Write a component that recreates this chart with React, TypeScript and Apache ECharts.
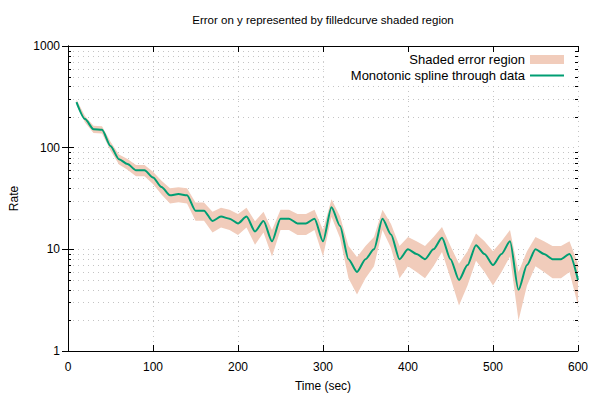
import { useEffect, useRef } from 'react';
import * as echarts from 'echarts';

// Time (sec)
const times = [
  10, 20, 30, 40, 50, 60, 70, 80, 90, 100,
  110, 120, 130, 140, 150, 160, 170, 180, 190, 200,
  210, 220, 230, 240, 250, 260, 270, 280, 290, 300,
  310, 320, 330, 340, 350, 360, 370, 380, 390, 400,
  410, 420, 430, 440, 450, 460, 470, 480, 490, 500,
  510, 520, 530, 540, 550, 560, 570, 580, 590, 600,
];
// Rate
const rates = [
  280, 191, 152, 150, 104, 77, 69, 60, 60, 51,
  41, 34, 35, 34, 24, 24, 19, 21, 20, 18,
  21, 15, 19, 12, 20, 20, 18, 18, 20, 12,
  26, 17, 8, 6, 8, 10, 20, 14, 8, 10,
  9, 8, 10, 13, 8, 5, 7, 11, 9, 7,
  9, 12, 4, 7, 10, 9, 8, 8, 9, 5,
];
// Error on y
const errors = [
  16.7, 13.8, 12.3, 12.2, 10.2, 8.8, 8.3, 7.7, 7.7, 7.1,
  6.4, 5.8, 5.9, 5.8, 4.9, 4.9, 4.4, 4.6, 4.5, 4.2,
  4.6, 3.9, 4.4, 3.5, 4.5, 4.5, 4.2, 4.2, 4.5, 3.5,
  5.1, 4.1, 2.8, 2.4, 2.8, 3.2, 4.5, 3.7, 2.8, 3.2,
  3.0, 2.8, 3.2, 3.6, 2.8, 2.2, 2.6, 3.3, 3.0, 2.6,
  3.0, 3.5, 2.0, 2.6, 3.2, 3.0, 2.8, 2.8, 3.0, 2.2,
];
// Minor log ticks on the y axis
const minorYTicks = [
  2, 3, 4, 5, 6, 7, 8, 9,
  20, 30, 40, 50, 60, 70, 80, 90,
  200, 300, 400, 500, 600, 700, 800, 900,
];

const TITLE = 'Error on y represented by filledcurve shaded region';
const X_NAME = 'Time (sec)';
const Y_NAME = 'Rate';
const BAND_NAME = 'Shaded error region';
const LINE_NAME = 'Monotonic spline through data';

const FONT = '"Liberation Sans", Arial, sans-serif';
const BAND = '#f1ccbb';
const LINE = '#009e73';
const GRID = '#c4c4c4';

export default function App() {
  const ref = useRef<HTMLDivElement>(null);
  useEffect(() => {
    if (!ref.current) return;
    const chart = echarts.init(ref.current, null, { renderer: 'svg' });
    const bandData = times.map((t, i) => [t, rates[i] - errors[i], rates[i] + errors[i]]);
    const line = times.map((t, i) => [t, rates[i]]);
    const minorData = minorYTicks.map((v) => [0, v]);

    const axisLine = { show: true, lineStyle: { color: '#000', width: 1 } };
    const labelStyle = { color: '#000', fontSize: 12, fontFamily: FONT };

    chart.setOption({
      animation: false,
      backgroundColor: '#fff',
      graphic: [
        {
          type: 'text',
          x: 323,
          y: 20,
          style: {
            text: TITLE,
            font: `11.5px ${FONT}`,
            fill: '#000',
            textAlign: 'center',
            textVerticalAlign: 'middle',
          },
        },
      ],
      grid: { left: 68, right: 22, top: 46, bottom: 49 },
      legend: {
        orient: 'vertical',
        right: 26,
        top: 46,
        align: 'right',
        itemWidth: 34,
        itemHeight: 9,
        itemGap: 3,
        padding: [7, 10, 3, 27],
        backgroundColor: '#fff',
        selectedMode: false,
        textStyle: { color: '#000', fontSize: 13, fontFamily: FONT },
        data: [
          { name: BAND_NAME, icon: 'rect', itemStyle: { color: BAND, borderWidth: 0 } },
          {
            name: LINE_NAME,
            icon: 'path://M0 0H34V2H0Z',
            itemStyle: { color: LINE, borderWidth: 0 },
          },
        ],
      },
      xAxis: [
        {
          type: 'value',
          min: 0,
          max: 600,
          interval: 100,
          position: 'bottom',
          name: X_NAME,
          nameLocation: 'middle',
          nameGap: 29,
          nameTextStyle: labelStyle,
          axisLine,
          axisTick: { show: true, inside: true, length: 6, lineStyle: { color: '#000' } },
          axisLabel: { ...labelStyle, margin: 10 },
          splitLine: { show: true, lineStyle: { color: GRID, width: 1, type: [1, 4] } },
        },
        {
          type: 'value',
          min: 0,
          max: 600,
          interval: 100,
          position: 'top',
          z: 10,
          axisLine,
          axisTick: { show: true, inside: true, length: 6, lineStyle: { color: '#000' } },
          axisLabel: { show: false },
          splitLine: { show: false },
        },
      ],
      yAxis: [
        {
          type: 'log',
          logBase: 10,
          min: 1,
          max: 1000,
          position: 'left',
          name: Y_NAME,
          nameLocation: 'middle',
          nameGap: 48,
          nameRotate: 90,
          nameTextStyle: labelStyle,
          axisLine,
          axisTick: { show: true, inside: true, length: 6, lineStyle: { color: '#000' } },
          axisLabel: {
            ...labelStyle,
            margin: 8,
            formatter: (v: number) => String(Math.round(v)),
          },
          splitLine: { show: true, lineStyle: { color: GRID, width: 1, type: [1, 4] } },
        },
        {
          type: 'log',
          logBase: 10,
          min: 1,
          max: 1000,
          position: 'right',
          z: 10,
          axisLine,
          axisTick: { show: true, inside: true, length: 6, lineStyle: { color: '#000' } },
          axisLabel: { show: false },
          splitLine: { show: false },
        },
      ],
      series: [
        {
          type: 'custom',
          name: 'minor-grid',
          z: 1,
          silent: true,
          encode: { x: 0, y: 1 },
          data: minorData,
          renderItem: (_p: any, api: any) => {
            const v = api.value(1);
            const a = api.coord([0, v]);
            const b = api.coord([600, v]);
            const y = Math.round(a[1]) + 0.5;
            return {
              type: 'line',
              silent: true,
              shape: { x1: a[0], y1: y, x2: b[0], y2: y },
              style: { stroke: GRID, lineWidth: 1, lineDash: [1, 4] },
            };
          },
        },
        {
          type: 'custom',
          name: 'minor-ticks',
          z: 10,
          silent: true,
          encode: { x: 0, y: 1 },
          data: minorData,
          renderItem: (_p: any, api: any) => {
            const v = api.value(1);
            const a = api.coord([0, v]);
            const b = api.coord([600, v]);
            const y = Math.round(a[1]) + 0.5;
            return {
              type: 'group',
              children: [
                {
                  type: 'line',
                  shape: { x1: a[0], y1: y, x2: a[0] + 3, y2: y },
                  style: { stroke: '#000', lineWidth: 1 },
                },
                {
                  type: 'line',
                  shape: { x1: b[0] - 3, y1: y, x2: b[0], y2: y },
                  style: { stroke: '#000', lineWidth: 1 },
                },
              ],
            };
          },
        },
        {
          type: 'custom',
          name: BAND_NAME,
          z: 2,
          silent: true,
          color: BAND,
          encode: { x: 0, y: [1, 2] },
          data: bandData,
          renderItem: (params: any, api: any) => {
            if (params.dataIndex !== 0) return null;
            const upper = bandData.map((d) => api.coord([d[0], d[2]]));
            const lowerPts = bandData.map((d) => api.coord([d[0], d[1]])).reverse();
            return {
              type: 'polygon',
              shape: { points: upper.concat(lowerPts) },
              style: { fill: BAND, stroke: 'none' },
            };
          },
        },
        {
          type: 'line',
          name: LINE_NAME,
          z: 3,
          data: line,
          symbol: 'none',
          showSymbol: false,
          smooth: 0.25,
          smoothMonotone: 'x',
          color: LINE,
          lineStyle: { color: LINE, width: 2 },
          silent: true,
        },
      ],
    });
    return () => chart.dispose();
  }, []);
  return (
    <div
      ref={ref}
      style={{ position: 'fixed', left: 0, top: 0, width: 600, height: 400 }}
    />
  );
}
